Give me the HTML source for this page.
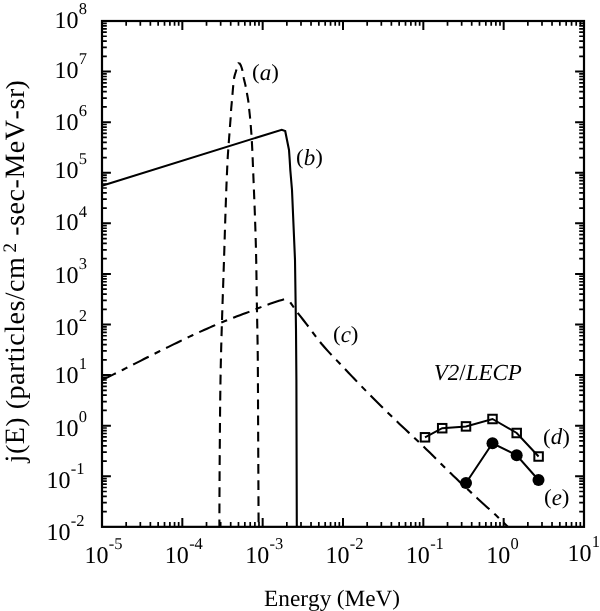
<!DOCTYPE html>
<html><head><meta charset="utf-8"><title>Figure</title>
<style>html,body{margin:0;padding:0;background:#fff;}body{width:600px;height:611px;overflow:hidden;}svg{display:block;will-change:transform;filter:grayscale(1);}text{font-family:"Liberation Serif",serif;fill:#000;text-rendering:geometricPrecision;font-kerning:none;}.i{font-style:italic;}</style>
</head><body>
<svg width="600" height="611" viewBox="0 0 600 611">
<rect x="0" y="0" width="600" height="611" fill="#ffffff"/>
<path d="M182.33 526.85V517.95M182.33 21V29.9M262.67 526.85V517.95M262.67 21V29.9M343 526.85V517.95M343 21V29.9M423.33 526.85V517.95M423.33 21V29.9M503.67 526.85V517.95M503.67 21V29.9M102 476.27H110.9M584 476.27H575.1M102 425.68H110.9M584 425.68H575.1M102 375.1H110.9M584 375.1H575.1M102 324.51H110.9M584 324.51H575.1M102 273.93H110.9M584 273.93H575.1M102 223.34H110.9M584 223.34H575.1M102 172.75H110.9M584 172.75H575.1M102 122.17H110.9M584 122.17H575.1M102 71.59H110.9M584 71.59H575.1" fill="none" stroke="#000" stroke-width="2"/>
<path d="M126.18 526.85V522.05M126.18 21V25.8M140.33 526.85V522.05M140.33 21V25.8M150.37 526.85V522.05M150.37 21V25.8M158.15 526.85V522.05M158.15 21V25.8M164.51 526.85V522.05M164.51 21V25.8M169.89 526.85V522.05M169.89 21V25.8M174.55 526.85V522.05M174.55 21V25.8M178.66 526.85V522.05M178.66 21V25.8M206.52 526.85V522.05M206.52 21V25.8M220.66 526.85V522.05M220.66 21V25.8M230.7 526.85V522.05M230.7 21V25.8M238.48 526.85V522.05M238.48 21V25.8M244.84 526.85V522.05M244.84 21V25.8M250.22 526.85V522.05M250.22 21V25.8M254.88 526.85V522.05M254.88 21V25.8M258.99 526.85V522.05M258.99 21V25.8M286.85 526.85V522.05M286.85 21V25.8M301 526.85V522.05M301 21V25.8M311.03 526.85V522.05M311.03 21V25.8M318.82 526.85V522.05M318.82 21V25.8M325.18 526.85V522.05M325.18 21V25.8M330.56 526.85V522.05M330.56 21V25.8M335.21 526.85V522.05M335.21 21V25.8M339.32 526.85V522.05M339.32 21V25.8M367.18 526.85V522.05M367.18 21V25.8M381.33 526.85V522.05M381.33 21V25.8M391.37 526.85V522.05M391.37 21V25.8M399.15 526.85V522.05M399.15 21V25.8M405.51 526.85V522.05M405.51 21V25.8M410.89 526.85V522.05M410.89 21V25.8M415.55 526.85V522.05M415.55 21V25.8M419.66 526.85V522.05M419.66 21V25.8M447.52 526.85V522.05M447.52 21V25.8M461.66 526.85V522.05M461.66 21V25.8M471.7 526.85V522.05M471.7 21V25.8M479.48 526.85V522.05M479.48 21V25.8M485.84 526.85V522.05M485.84 21V25.8M491.22 526.85V522.05M491.22 21V25.8M495.88 526.85V522.05M495.88 21V25.8M499.99 526.85V522.05M499.99 21V25.8M527.85 526.85V522.05M527.85 21V25.8M542 526.85V522.05M542 21V25.8M552.03 526.85V522.05M552.03 21V25.8M559.82 526.85V522.05M559.82 21V25.8M566.18 526.85V522.05M566.18 21V25.8M571.56 526.85V522.05M571.56 21V25.8M576.21 526.85V522.05M576.21 21V25.8M580.32 526.85V522.05M580.32 21V25.8M102 511.62H106.8M584 511.62H579.2M102 502.71H106.8M584 502.71H579.2M102 496.39H106.8M584 496.39H579.2M102 491.49H106.8M584 491.49H579.2M102 487.49H106.8M584 487.49H579.2M102 484.1H106.8M584 484.1H579.2M102 481.17H106.8M584 481.17H579.2M102 478.58H106.8M584 478.58H579.2M102 461.04H106.8M584 461.04H579.2M102 452.13H106.8M584 452.13H579.2M102 445.81H106.8M584 445.81H579.2M102 440.91H106.8M584 440.91H579.2M102 436.9H106.8M584 436.9H579.2M102 433.52H106.8M584 433.52H579.2M102 430.58H106.8M584 430.58H579.2M102 427.99H106.8M584 427.99H579.2M102 410.45H106.8M584 410.45H579.2M102 401.54H106.8M584 401.54H579.2M102 395.22H106.8M584 395.22H579.2M102 390.32H106.8M584 390.32H579.2M102 386.32H106.8M584 386.32H579.2M102 382.93H106.8M584 382.93H579.2M102 380H106.8M584 380H579.2M102 377.41H106.8M584 377.41H579.2M102 359.87H106.8M584 359.87H579.2M102 350.96H106.8M584 350.96H579.2M102 344.64H106.8M584 344.64H579.2M102 339.74H106.8M584 339.74H579.2M102 335.73H106.8M584 335.73H579.2M102 332.35H106.8M584 332.35H579.2M102 329.41H106.8M584 329.41H579.2M102 326.82H106.8M584 326.82H579.2M102 309.28H106.8M584 309.28H579.2M102 300.37H106.8M584 300.37H579.2M102 294.05H106.8M584 294.05H579.2M102 289.15H106.8M584 289.15H579.2M102 285.15H106.8M584 285.15H579.2M102 281.76H106.8M584 281.76H579.2M102 278.83H106.8M584 278.83H579.2M102 276.24H106.8M584 276.24H579.2M102 258.7H106.8M584 258.7H579.2M102 249.79H106.8M584 249.79H579.2M102 243.47H106.8M584 243.47H579.2M102 238.57H106.8M584 238.57H579.2M102 234.56H106.8M584 234.56H579.2M102 231.18H106.8M584 231.18H579.2M102 228.24H106.8M584 228.24H579.2M102 225.65H106.8M584 225.65H579.2M102 208.11H106.8M584 208.11H579.2M102 199.2H106.8M584 199.2H579.2M102 192.88H106.8M584 192.88H579.2M102 187.98H106.8M584 187.98H579.2M102 183.98H106.8M584 183.98H579.2M102 180.59H106.8M584 180.59H579.2M102 177.66H106.8M584 177.66H579.2M102 175.07H106.8M584 175.07H579.2M102 157.53H106.8M584 157.53H579.2M102 148.62H106.8M584 148.62H579.2M102 142.3H106.8M584 142.3H579.2M102 137.4H106.8M584 137.4H579.2M102 133.39H106.8M584 133.39H579.2M102 130.01H106.8M584 130.01H579.2M102 127.07H106.8M584 127.07H579.2M102 124.48H106.8M584 124.48H579.2M102 106.94H106.8M584 106.94H579.2M102 98.03H106.8M584 98.03H579.2M102 91.71H106.8M584 91.71H579.2M102 86.81H106.8M584 86.81H579.2M102 82.81H106.8M584 82.81H579.2M102 79.42H106.8M584 79.42H579.2M102 76.49H106.8M584 76.49H579.2M102 73.9H106.8M584 73.9H579.2M102 56.36H106.8M584 56.36H579.2M102 47.45H106.8M584 47.45H579.2M102 41.13H106.8M584 41.13H579.2M102 36.23H106.8M584 36.23H579.2M102 32.22H106.8M584 32.22H579.2M102 28.84H106.8M584 28.84H579.2M102 25.9H106.8M584 25.9H579.2M102 23.31H106.8M584 23.31H579.2" fill="none" stroke="#000" stroke-width="1.7"/>
<rect x="102" y="21" width="482" height="505.85" fill="none" stroke="#000" stroke-width="2.2"/>
<path d="M239 63.1 L238.3 63.3 L237.98 64 L237.6 65 L237.31 66 L236.62 69 L235.76 72 L234.81 75 L234.1 78 L233.7 81 L233.4 84 L233.11 87 L232.84 90 L232.59 93 L232.33 96 L232.07 99 L231.81 102 L231.53 105 L231.25 108 L231.04 111 L230.87 114 L230.7 117 L230.48 120 L230.24 123 L230 126 L229.79 129 L229.57 132 L229.35 135 L229.11 138 L228.88 141 L228.65 144 L228.44 147 L228.23 150 L228.02 153 L227.81 156 L227.65 159 L227.5 162 L227.35 165 L227.21 168 L227.08 171 L226.94 174 L226.81 177 L226.69 180 L226.56 183 L226.44 186 L226.33 189 L226.21 192 L226.1 195 L225.99 198 L225.89 201 L225.78 204 L225.68 207 L225.58 210 L225.48 213 L225.38 216 L225.28 219 L225.19 222 L225.09 225 L225 228 L224.91 231 L224.81 234 L224.72 237 L224.63 240 L224.54 243 L224.44 246 L224.35 249 L224.26 252 L224.16 255 L224.06 258 L223.97 261 L223.87 264 L223.77 267 L223.67 270 L223.57 273 L223.47 276 L223.37 279 L223.27 282 L223.17 285 L223.07 288 L222.96 291 L222.86 294 L222.76 297 L222.66 300 L222.56 303 L222.46 306 L222.36 309 L222.27 312 L222.17 315 L222.07 318 L221.98 321 L221.88 324 L221.79 327 L221.7 330 L221.61 333 L221.52 336 L221.44 339 L221.36 342 L221.27 345 L221.19 348 L221.12 351 L221.04 354 L220.97 357 L220.9 360 L220.83 363 L220.76 366 L220.7 369 L220.64 372 L220.59 375 L220.53 378 L220.48 381 L220.44 384 L220.39 387 L220.34 390 L220.3 393 L220.26 396 L220.22 399 L220.18 402 L220.15 405 L220.11 408 L220.08 411 L220.05 414 L220.03 417 L220 420 L219.98 423 L219.95 426 L219.93 429 L219.9 432 L219.88 435 L219.85 438 L219.83 441 L219.81 444 L219.78 447 L219.76 450 L219.74 453 L219.72 456 L219.69 459 L219.67 462 L219.65 465 L219.63 468 L219.61 471 L219.59 474 L219.58 477 L219.56 480 L219.54 483 L219.53 486 L219.51 489 L219.5 492 L219.48 495 L219.47 498 L219.46 501 L219.45 504 L219.44 507 L219.43 510 L219.42 513 L219.41 516 L219.41 519 L219.4 522 L219.4 525 L219.4 526.85" fill="none" stroke="#000" stroke-width="2.1" stroke-dasharray="9.8 6.3" stroke-dashoffset="8.95" stroke-linejoin="round"/>
<path d="M239 63.1 L239.7 63.5 L240.03 64 L240.6 65 L241.03 66 L241.75 68 L242.3 70 L242.86 73 L243.32 76 L243.93 79 L244.66 82 L245.38 85 L246 88 L246.55 91 L247.08 94 L247.63 97 L248.14 100 L248.56 103 L248.86 106 L249.15 109 L249.47 112 L249.8 115 L250.1 118 L250.37 121 L250.62 124 L250.86 127 L251.1 130 L251.33 133 L251.53 136 L251.71 139 L251.88 142 L252.05 145 L252.2 148 L252.35 151 L252.48 154 L252.6 157 L252.72 160 L252.84 163 L252.96 166 L253.08 169 L253.2 172 L253.33 175 L253.45 178 L253.57 181 L253.69 184 L253.81 187 L253.93 190 L254.05 193 L254.17 196 L254.29 199 L254.41 202 L254.52 205 L254.64 208 L254.75 211 L254.86 214 L254.97 217 L255.07 220 L255.18 223 L255.28 226 L255.38 229 L255.47 232 L255.56 235 L255.65 238 L255.74 241 L255.82 244 L255.9 247 L255.98 250 L256.05 253 L256.12 256 L256.18 259 L256.24 262 L256.29 265 L256.34 268 L256.39 271 L256.44 274 L256.48 277 L256.52 280 L256.56 283 L256.6 286 L256.64 289 L256.68 292 L256.72 295 L256.77 298 L256.82 301 L256.87 304 L256.92 307 L256.97 310 L257.03 313 L257.09 316 L257.15 319 L257.2 322 L257.26 325 L257.32 328 L257.38 331 L257.44 334 L257.49 337 L257.54 340 L257.59 343 L257.64 346 L257.68 349 L257.72 352 L257.75 355 L257.78 358 L257.81 361 L257.83 364 L257.85 367 L257.87 370 L257.89 373 L257.9 376 L257.92 379 L257.93 382 L257.95 385 L257.96 388 L257.98 391 L257.99 394 L258 397 L258.01 400 L258.03 403 L258.04 406 L258.05 409 L258.06 412 L258.08 415 L258.09 418 L258.1 421 L258.12 424 L258.13 427 L258.15 430 L258.16 433 L258.18 436 L258.19 439 L258.21 442 L258.22 445 L258.23 448 L258.25 451 L258.26 454 L258.28 457 L258.29 460 L258.31 463 L258.32 466 L258.33 469 L258.35 472 L258.36 475 L258.38 478 L258.39 481 L258.4 484 L258.42 487 L258.43 490 L258.45 493 L258.46 496 L258.47 499 L258.49 502 L258.5 505 L258.51 508 L258.53 511 L258.54 514 L258.56 517 L258.57 520 L258.58 523 L258.6 526 L258.6 526.85" fill="none" stroke="#000" stroke-width="2.1" stroke-dasharray="9.8 6.35" stroke-dashoffset="1.05" stroke-linejoin="round"/>
<path d="M102 185.7 L281.75 129.75 L285.2 131 L287 140 L289 150 L289.7 160 L290.3 170 L292 190 L295 260 L296 330 L296.4 380 L296.5 420 L296.8 526.85" fill="none" stroke="#000" stroke-width="2.1" stroke-linejoin="miter"/>
<path d="M102 380 L105 378.56 L108 377.11 L111 375.65 L114 374.18 L117 372.7 L120 371.2 L123 369.69 L126 368.16 L129 366.63 L132 365.11 L135 363.6 L138 362.08 L141 360.57 L144 359.06 L147 357.55 L150 356.04 L153 354.54 L156 353.04 L159 351.55 L162 350.06 L165 348.58 L168 347.11 L171 345.64 L174 344.17 L177 342.7 L180 341.23 L183 339.78 L186 338.33 L189 336.9 L192 335.48 L195 334.08 L198 332.7 L201 331.35 L204 330.02 L207 328.69 L210 327.38 L213 326.08 L216 324.8 L219 323.54 L222 322.28 L225 321.05 L228 319.83 L231 318.63 L234 317.44 L237 316.3 L240 315.18 L243 314.09 L246 312.99 L249 311.88 L252 310.73 L255 309.54 L258 308.34 L261 307.14 L264 305.97 L267 304.86 L270 303.8 L273 302.78 L276 301.79 L279 300.83 L282 299.9 L285 299 L287.5 298.3" fill="none" stroke="#000" stroke-width="2.1" stroke-dasharray="17.4 6.6 6.3 6.5" stroke-dashoffset="2" stroke-linejoin="round"/>
<path d="M287.5 298.3 L288.5 299.79 L291.5 304.18 L294.5 308.46 L297.5 312.57 L300.5 316.47 L303.5 320.26 L306.5 324.06 L309.5 327.99 L312.5 332.09 L315.5 336.19 L318.5 340.14 L321.5 343.79 L324.5 347.26 L327.5 350.6 L330.5 353.85 L333.5 357.02 L336.5 360.14 L339.5 363.25 L342.5 366.37 L345.5 369.53 L348.5 372.7 L351.5 375.86 L354.5 379.01 L357.5 382.14 L360.5 385.26 L363.5 388.36 L366.5 391.43 L369.5 394.48 L372.5 397.51 L375.5 400.51 L378.5 403.49 L381.5 406.45 L384.5 409.39 L387.5 412.31 L390.5 415.23 L393.5 418.13 L396.5 421.02 L399.5 423.89 L402.5 426.74 L405.5 429.56 L408.5 432.37 L411.5 435.18 L414.5 437.99 L417.5 440.81 L420.5 443.65 L423.5 446.52 L426.5 449.43 L429.5 452.37 L432.5 455.34 L435.5 458.32 L438.5 461.31 L441.5 464.29 L444.5 467.26 L447.5 470.21 L450.5 473.12 L453.5 475.99 L456.5 478.85 L459.5 481.68 L462.5 484.5 L465.5 487.31 L468.5 490.1 L471.5 492.89 L474.5 495.68 L477.5 498.46 L480.5 501.22 L483.5 503.95 L486.5 506.66 L489.5 509.37 L492.5 512.09 L495.5 514.85 L498.5 517.65 L501.5 520.52 L504.5 523.48 L507.5 526.54 L507.8 526.85" fill="none" stroke="#000" stroke-width="2.1" stroke-dasharray="17.4 6.6 6.3 6.5" stroke-dashoffset="19.11" stroke-linejoin="round"/>
<path d="M425 437.3 L442.2 428.2 L466 426.4 L492.5 419 L516.7 433 L538.6 456.5" fill="none" stroke="#000" stroke-width="2"/>
<rect x="420.75" y="433.05" width="8.5" height="8.5" fill="none" stroke="#000" stroke-width="2"/>
<rect x="437.95" y="423.95" width="8.5" height="8.5" fill="none" stroke="#000" stroke-width="2"/>
<rect x="461.75" y="422.15" width="8.5" height="8.5" fill="none" stroke="#000" stroke-width="2"/>
<rect x="488.25" y="414.75" width="8.5" height="8.5" fill="none" stroke="#000" stroke-width="2"/>
<rect x="512.45" y="428.75" width="8.5" height="8.5" fill="none" stroke="#000" stroke-width="2"/>
<rect x="534.35" y="452.25" width="8.5" height="8.5" fill="none" stroke="#000" stroke-width="2"/>
<path d="M466 483 L492.5 443.3 L516.7 455.3 L538.5 480" fill="none" stroke="#000" stroke-width="2"/>
<circle cx="466" cy="483" r="6" fill="#000"/>
<circle cx="492.5" cy="443.3" r="6" fill="#000"/>
<circle cx="516.7" cy="455.3" r="6" fill="#000"/>
<circle cx="538.5" cy="480" r="6" fill="#000"/>
<text transform="translate(54.4 27.5) scale(1 1)" font-size="24">10<tspan dy="-13.6" dx="0.3" font-size="16.5">8</tspan></text>
<text transform="translate(54.4 77.5) scale(1 1)" font-size="24">10<tspan dy="-13.6" dx="0.3" font-size="16.5">7</tspan></text>
<text transform="translate(54.4 129.8) scale(1 1)" font-size="24">10<tspan dy="-13.6" dx="0.3" font-size="16.5">6</tspan></text>
<text transform="translate(54.4 178) scale(1 1)" font-size="24">10<tspan dy="-13.6" dx="0.3" font-size="16.5">5</tspan></text>
<text transform="translate(54.4 230.3) scale(1 1)" font-size="24">10<tspan dy="-13.6" dx="0.3" font-size="16.5">4</tspan></text>
<text transform="translate(54.4 282.5) scale(1 1)" font-size="24">10<tspan dy="-13.6" dx="0.3" font-size="16.5">3</tspan></text>
<text transform="translate(54.4 334.8) scale(1 1)" font-size="24">10<tspan dy="-13.6" dx="0.3" font-size="16.5">2</tspan></text>
<text transform="translate(54.4 383) scale(1 1)" font-size="24">10<tspan dy="-13.6" dx="0.3" font-size="16.5">1</tspan></text>
<text transform="translate(54.4 435.5) scale(1 1)" font-size="24">10<tspan dy="-13.6" dx="0.3" font-size="16.5">0</tspan></text>
<text transform="translate(46.4 488) scale(1 1)" font-size="24">10<tspan dy="-13.6" dx="0.3" font-size="16.5">-1</tspan></text>
<text transform="translate(46.4 540) scale(1 1)" font-size="24">10<tspan dy="-13.6" dx="0.3" font-size="16.5">-2</tspan></text>
<text transform="translate(84.5 562.5) scale(1 1)" font-size="24">10<tspan dy="-13.6" dx="0.3" font-size="16.5">-5</tspan></text>
<text transform="translate(164.83 562.5) scale(1 1)" font-size="24">10<tspan dy="-13.6" dx="0.3" font-size="16.5">-4</tspan></text>
<text transform="translate(245.17 562.5) scale(1 1)" font-size="24">10<tspan dy="-13.6" dx="0.3" font-size="16.5">-3</tspan></text>
<text transform="translate(325.5 562.5) scale(1 1)" font-size="24">10<tspan dy="-13.6" dx="0.3" font-size="16.5">-2</tspan></text>
<text transform="translate(405.83 562.5) scale(1 1)" font-size="24">10<tspan dy="-13.6" dx="0.3" font-size="16.5">-1</tspan></text>
<text transform="translate(486.17 562.5) scale(1 1)" font-size="24">10<tspan dy="-13.6" dx="0.3" font-size="16.5">0</tspan></text>
<text transform="translate(567.5 560.5) scale(1 1)" font-size="24">10<tspan dy="-13.6" dx="0.3" font-size="16.5">1</tspan></text>
<g transform="translate(264 606)" font-size="23.3"><text x="0" y="0">Energy </text><text transform="translate(72.69 -0.56) scale(1 0.94)">(</text><text x="80.45" y="0">MeV</text><text transform="translate(128.33 -0.56) scale(1 0.94)">)</text></g>
<g transform="translate(24.2 462.4) rotate(-90)" font-size="28" letter-spacing="0.5"><text x="0" y="0">j</text><text transform="translate(8.28 -0.67) scale(1 0.94)">(</text><text x="18.1" y="0">E</text><text transform="translate(35.71 -0.67) scale(1 0.94)">)</text><text x="45.53" y="0"> </text><text transform="translate(53.03 -0.67) scale(1 0.94)">(</text><text x="62.86" y="0">particles/cm</text></g>
<text transform="translate(16.2 252.6) rotate(-90)" font-size="19">2</text>
<g transform="translate(24.2 235.75) rotate(-90)" font-size="28" letter-spacing="0.55"><text x="0" y="0">-sec-MeV-sr</text><text transform="translate(146.17 -0.67) scale(1 0.94)">)</text></g>
<g transform="translate(252 79.6)" font-size="23"><text transform="translate(0 -0.55) scale(1 0.94)">(</text><text x="7.66" y="0" class="i">a</text><text transform="translate(19.16 -0.55) scale(1 0.94)">)</text></g>
<g transform="translate(296 164.7)" font-size="23"><text transform="translate(0 -0.55) scale(1 0.94)">(</text><text x="7.66" y="0" class="i">b</text><text transform="translate(19.16 -0.55) scale(1 0.94)">)</text></g>
<g transform="translate(333 341.7)" font-size="23"><text transform="translate(0 -0.55) scale(1 0.94)">(</text><text x="7.66" y="0" class="i">c</text><text transform="translate(17.87 -0.55) scale(1 0.94)">)</text></g>
<g transform="translate(543 444.4)" font-size="23"><text transform="translate(0 -0.55) scale(1 0.94)">(</text><text x="7.66" y="0" class="i">d</text><text transform="translate(19.16 -0.55) scale(1 0.94)">)</text></g>
<g transform="translate(544 504.9)" font-size="23"><text transform="translate(0 -0.55) scale(1 0.94)">(</text><text x="7.66" y="0" class="i">e</text><text transform="translate(17.87 -0.55) scale(1 0.94)">)</text></g>
<g transform="translate(433.7 380.4)" font-size="23"><text x="0" y="0" class="i">V2</text><text x="25.55" y="0">/</text><text x="31.94" y="0" class="i">LECP</text></g>
</svg></body></html>
